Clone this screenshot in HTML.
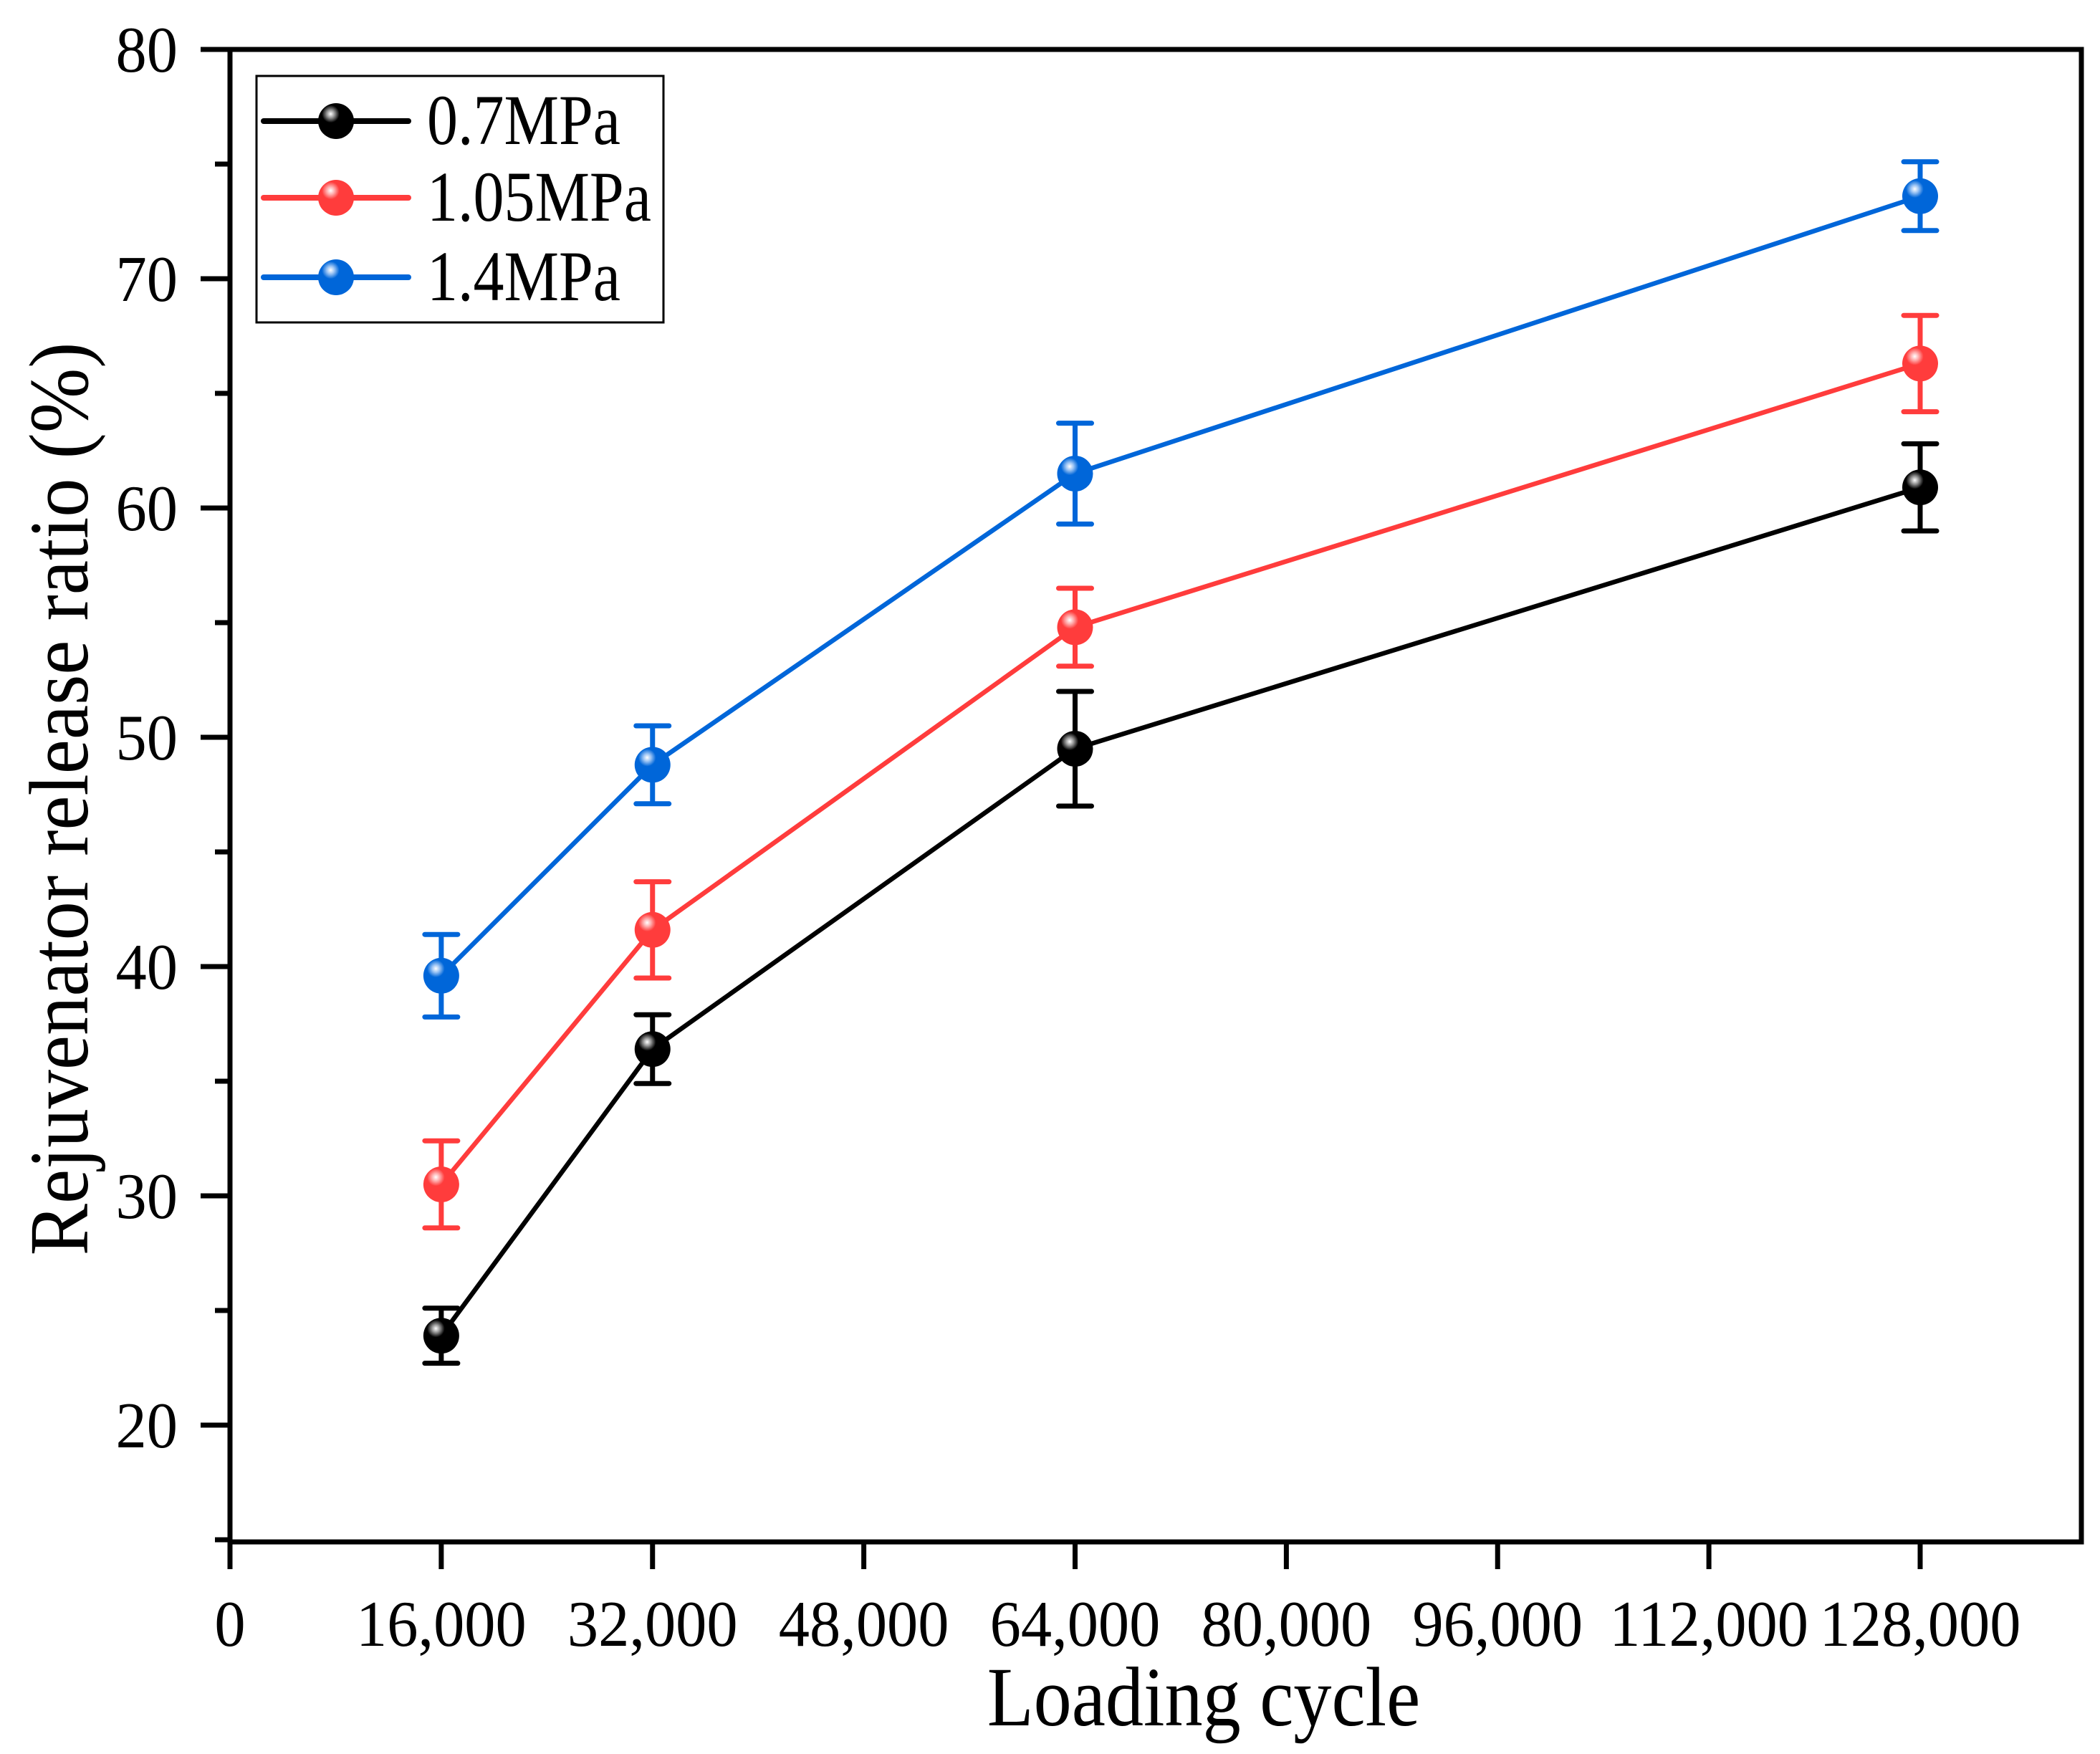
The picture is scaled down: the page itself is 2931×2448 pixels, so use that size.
<!DOCTYPE html>
<html><head><meta charset="utf-8"><style>
html,body{margin:0;padding:0;background:#fff;}
svg{display:block;font-family:"Liberation Serif",serif;}
</style></head><body>
<svg id="chart" width="2931" height="2448" viewBox="0 0 2931 2448" xmlns="http://www.w3.org/2000/svg">
<defs>
<radialGradient id="gk" cx="0.35" cy="0.3" r="0.7"><stop offset="0" stop-color="#fff"/><stop offset="0.15" stop-color="#999"/><stop offset="0.35" stop-color="#000"/><stop offset="1" stop-color="#000"/></radialGradient>
<radialGradient id="gr" cx="0.35" cy="0.3" r="0.7"><stop offset="0" stop-color="#fff"/><stop offset="0.15" stop-color="#ffb0b0"/><stop offset="0.35" stop-color="#ff3c3c"/><stop offset="1" stop-color="#ff3c3c"/></radialGradient>
<radialGradient id="gb" cx="0.35" cy="0.3" r="0.7"><stop offset="0" stop-color="#fff"/><stop offset="0.15" stop-color="#9cc4f4"/><stop offset="0.35" stop-color="#0066d9"/><stop offset="1" stop-color="#0066d9"/></radialGradient>
</defs>
<g id="plot"></g>
</svg>
<script>
const xValues = [16000, 32000, 64000, 128000];
const seriesNames = ["0.7MPa", "1.05MPa", "1.4MPa"];
const s07 = [23.9, 36.4, 49.5, 60.9];
const s07err = [1.2, 1.5, 2.5, 1.9];
const s105 = [30.5, 41.6, 54.8, 66.3];
const s105err = [1.9, 2.1, 1.7, 2.1];
const s14 = [39.6, 48.8, 61.5, 73.6];
const s14err = [1.8, 1.7, 2.2, 1.5];
const xTicks = [0, 16000, 32000, 48000, 64000, 80000, 96000, 112000, 128000];
const xTickLabels = ["0","16,000","32,000","48,000","64,000","80,000","96,000","112,000","128,000"];
const yTicks = [20, 30, 40, 50, 60, 70, 80];
const yMinorTicks = [15, 25, 35, 45, 55, 65, 75];

const L=321, R=2905, T=69, B=2152;
const ySc = v => 1989 - (v-20)*32;
const xSc = v => L + v*(2680-L)/128000;
const NS="http://www.w3.org/2000/svg";
const g=document.getElementById('plot');
function el(tag, attrs, parent){const e=document.createElementNS(NS,tag);for(const k in attrs)e.setAttribute(k,attrs[k]);(parent||g).appendChild(e);return e;}
function txt(x,y,s,size,anchor,sx,parent,extra){
  const t=el('text',{x:0,y:0,'text-anchor':anchor,'font-size':size,transform:`translate(${x},${y}) ${extra||''} scale(${sx},1)`},parent);
  t.textContent=s;return t;
}

const frame=el('rect',{x:L,y:T,width:R-L,height:B-T,fill:'none',stroke:'#000','stroke-width':7});



yTicks.forEach(v=>{
  const t=el('line',{x1:L-41,x2:L,y1:ySc(v),y2:ySc(v),stroke:'#000','stroke-width':7});
  
  
  const tx=txt(248,ySc(v)+31,String(v),91,'end',0.95);
  
  
});
yMinorTicks.forEach(v=>{
  const t=el('line',{x1:L-21,x2:L,y1:ySc(v),y2:ySc(v),stroke:'#000','stroke-width':7});
  
  
});
xTicks.forEach((v,i)=>{
  const t=el('line',{x1:xSc(v),x2:xSc(v),y1:B,y2:B+38,stroke:'#000','stroke-width':7});
  
  
  const tx=txt(xSc(v),2297,xTickLabels[i],91,'middle',0.95);
  
  
});
const xt=txt(1680,2408,'Loading cycle',118,'middle',0.9);


const yt=txt(122,1115,'Rejuvenator release ratio (%)',118,'middle',0.92,null,'rotate(-90)');



const series=[[s07,s07err,'#000','url(#gk)'],[s105,s105err,'#ff3c3c','url(#gr)'],[s14,s14err,'#0066d9','url(#gb)']];
series.forEach((s,si)=>{
  const [vals,errs,col,grad]=s;
  const sg=el('g',{});
  
  
  const pts=vals.map((v,i)=>xSc(xValues[i])+','+ySc(v)).join(' ');
  const pl=el('polyline',{points:pts,fill:'none',stroke:col,'stroke-width':6.5},sg);
  
  
  vals.forEach((v,i)=>{
    const x=xSc(xValues[i]), y1=ySc(v-errs[i]), y2=ySc(v+errs[i]);
    const eb=el('path',{d:`M${x},${y1}V${y2}M${x-23},${y1}H${x+23}M${x-23},${y2}H${x+23}`,stroke:col,'stroke-width':7,fill:'none','stroke-linecap':'round'},sg);
    
    
    const c=el('circle',{cx:x,cy:ySc(v),r:25,fill:grad},sg);
    
    
  });
});

const lg=el('g',{});


const lb=el('rect',{x:358,y:106,width:568,height:344,fill:'#fff',stroke:'#000','stroke-width':3},lg);


const rows=[169,276,387];
series.forEach((s,si)=>{
  const y=rows[si];
  const e=el('g',{},lg);
  
  
  el('line',{x1:368,x2:570,y1:y,y2:y,stroke:s[2],'stroke-width':8,'stroke-linecap':'round'},e);
  el('circle',{cx:469,cy:y,r:25,fill:s[3]},e);
  txt(596,y+32,seriesNames[si],100,'start',0.86,e);
});
</script>
</body></html>
